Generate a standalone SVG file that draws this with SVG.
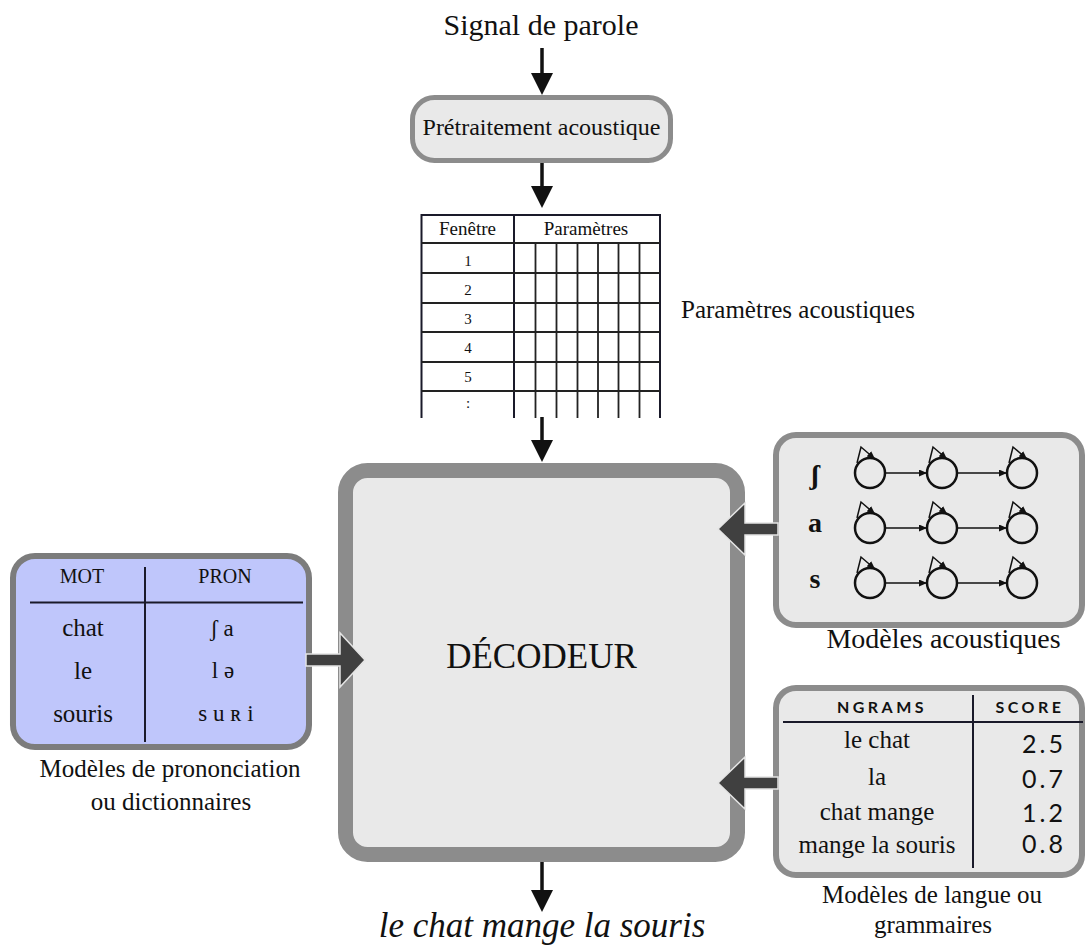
<svg xmlns="http://www.w3.org/2000/svg" width="1086" height="950" viewBox="0 0 1086 950">
<style>
.serif{font-family:"Liberation Serif","DejaVu Serif",serif;fill:#111}
.mid{text-anchor:middle}
.box{fill:#e9e9e9;stroke:#8c8c8c}
.tl{stroke:#222;stroke-width:1.8;fill:none}
.th{stroke:#1a1a2a;stroke-width:2;fill:none}
.st{fill:none;stroke:#111;stroke-width:2.5}
.hl{stroke:#111;stroke-width:1.5;fill:none}
.big{fill:#404040;stroke:#e4e4e4;stroke-width:1.5;stroke-linejoin:miter}
.blk{stroke:#111;stroke-width:3.5;fill:none}
.sans{font-family:Lato,"Open Sans","DejaVu Sans",sans-serif;fill:#111}
</style>
<defs>
<marker id="ah" viewBox="0 0 22 22" refX="17" refY="11" markerWidth="22" markerHeight="22" markerUnits="userSpaceOnUse" orient="auto">
<path d="M0,0 L22,11 L0,22 z" fill="#111"/>
</marker>
<marker id="sm" viewBox="0 0 8 7" refX="8" refY="3.5" markerWidth="8" markerHeight="7" markerUnits="userSpaceOnUse" orient="auto">
<path d="M0,0 L8,3.5 L0,7 z" fill="#111"/>
</marker>
<g id="hmm">
<circle cx="0" cy="0" r="15" class="st"/>
<path d="M-13,-10 L-9,-26 L5,-14" class="hl" marker-end="url(#sm)"/>
</g>
</defs>

<g id="input">
<text x="541" y="35" class="serif mid" font-size="30">Signal de parole</text>
</g>

<g id="pretraitement">
<rect x="412.5" y="97.5" width="258" height="63" rx="22" class="box" stroke-width="5"/>
<text x="541.5" y="135" class="serif mid" font-size="24">Prétraitement acoustique</text>
</g>

<g id="parametres">
<path class="th" d="M421.5,418 V215 H660 V418 M514,215 V418"/>
<path class="tl" d="M421.5,243 H660 M421.5,273 H660 M421.5,303 H660 M421.5,332 H660 M421.5,362 H660 M421.5,391 H660"/>
<path class="tl" d="M535.5,243 V418 M556.5,243 V418 M577.5,243 V418 M598,243 V418 M618.5,243 V418 M639.5,243 V418"/>
<text x="467.5" y="235" class="serif mid" font-size="19">Fenêtre</text>
<text x="586" y="235" class="serif mid" font-size="19">Paramètres</text>
<g class="serif mid" font-size="15" fill="#333">
<text x="468" y="266">1</text>
<text x="468" y="295">2</text>
<text x="468" y="324">3</text>
<text x="468" y="353">4</text>
<text x="468" y="382">5</text>
<text x="468" y="408">:</text>
</g>
<text x="681" y="318" class="serif" font-size="25">Paramètres acoustiques</text>
</g>

<g id="decodeur">
<rect x="345.5" y="470.5" width="392" height="384" rx="22" class="box" stroke-width="15" stroke="#8f8f8f"/>
<text x="541.5" y="668" class="serif mid" font-size="35">DÉCODEUR</text>
</g>

<g id="modeles-acoustiques">
<rect x="776" y="435" width="306" height="190" rx="20" class="box" stroke-width="6"/>
<g class="serif mid" font-size="28" font-weight="bold">
<text x="815" y="484">ʃ</text>
<text x="815" y="532">a</text>
<text x="815" y="588">s</text>
</g>
<use href="#hmm" x="870" y="473"/><use href="#hmm" x="942" y="473"/><use href="#hmm" x="1022" y="473"/>
<use href="#hmm" x="870" y="528"/><use href="#hmm" x="942" y="528"/><use href="#hmm" x="1022" y="528"/>
<use href="#hmm" x="870" y="583"/><use href="#hmm" x="942" y="583"/><use href="#hmm" x="1022" y="583"/>
<g class="hl">
<line x1="885" y1="473" x2="927" y2="473" marker-end="url(#sm)"/>
<line x1="957" y1="473" x2="1007" y2="473" marker-end="url(#sm)"/>
<line x1="885" y1="528" x2="927" y2="528" marker-end="url(#sm)"/>
<line x1="957" y1="528" x2="1007" y2="528" marker-end="url(#sm)"/>
<line x1="885" y1="583" x2="927" y2="583" marker-end="url(#sm)"/>
<line x1="957" y1="583" x2="1007" y2="583" marker-end="url(#sm)"/>
</g>
<text x="943.5" y="648" class="serif mid" font-size="28">Modèles acoustiques</text>
</g>

<g id="prononciation">
<rect x="13" y="556" width="296" height="191" rx="22" fill="#bfc6fb" stroke="#7c7c7c" stroke-width="6"/>
<path class="th" d="M30,602.5 H303 M145,567 V742"/>
<text x="82" y="583" class="serif mid" font-size="20">MOT</text>
<text x="225" y="583" class="serif mid" font-size="20">PRON</text>
<g class="serif mid" font-size="25">
<text x="83" y="636">chat</text>
<text x="83" y="679">le</text>
<text x="83" y="722">souris</text>
</g>
<g class="serif mid" font-size="23">
<text x="222" y="636">ʃ a</text>
<text x="223" y="678">l ə</text>
<text x="226" y="721">s u ʀ i</text>
</g>
<text x="170" y="777" class="serif mid" font-size="25">Modèles de prononciation</text>
<text x="171" y="810" class="serif mid" font-size="25">ou dictionnaires</text>
</g>

<g id="modeles-langue">
<rect x="776" y="688" width="306" height="187" rx="20" class="box" stroke-width="6"/>
<path class="th" d="M783,722 H1083 M973,695 V868"/>
<text x="882" y="713" class="sans mid" font-size="16" font-weight="bold" letter-spacing="3.5">NGRAMS</text>
<text x="1030" y="713" class="sans mid" font-size="16" font-weight="bold" letter-spacing="3.5">SCORE</text>
<g class="serif mid" font-size="25">
<text x="877" y="748">le chat</text>
<text x="877" y="785">la</text>
<text x="877" y="820">chat mange</text>
<text x="877" y="853">mange la souris</text>
</g>
<g class="sans" font-size="25" text-anchor="end" letter-spacing="3">
<text x="1066" y="753">2.5</text>
<text x="1066" y="788">0.7</text>
<text x="1066" y="822">1.2</text>
<text x="1066" y="853">0.8</text>
</g>
<text x="932" y="903" class="serif mid" font-size="25">Modèles de langue ou</text>
<text x="933" y="933" class="serif mid" font-size="25">grammaires</text>
</g>

<g id="sortie">
<text x="542" y="937" class="serif mid" font-size="35" font-style="italic">le chat mange la souris</text>
</g>

<g id="connecteurs">
<line x1="542" y1="48" x2="542" y2="90" class="blk" marker-end="url(#ah)"/>
<line x1="542" y1="163" x2="542" y2="203" class="blk" marker-end="url(#ah)"/>
<line x1="542" y1="417" x2="542" y2="457" class="blk" marker-end="url(#ah)"/>
<line x1="542" y1="862" x2="542" y2="907" class="blk" marker-end="url(#ah)"/>
<polygon class="big" points="306,654 340,654 340,633 365,660 340,687 340,666 306,666"/>
<polygon class="big" points="778,523 745,523 745,503 718,529 745,555 745,535 778,535"/>
<polygon class="big" points="778,777 745,777 745,757 718,783 745,809 745,789 778,789"/>
</g>
</svg>
